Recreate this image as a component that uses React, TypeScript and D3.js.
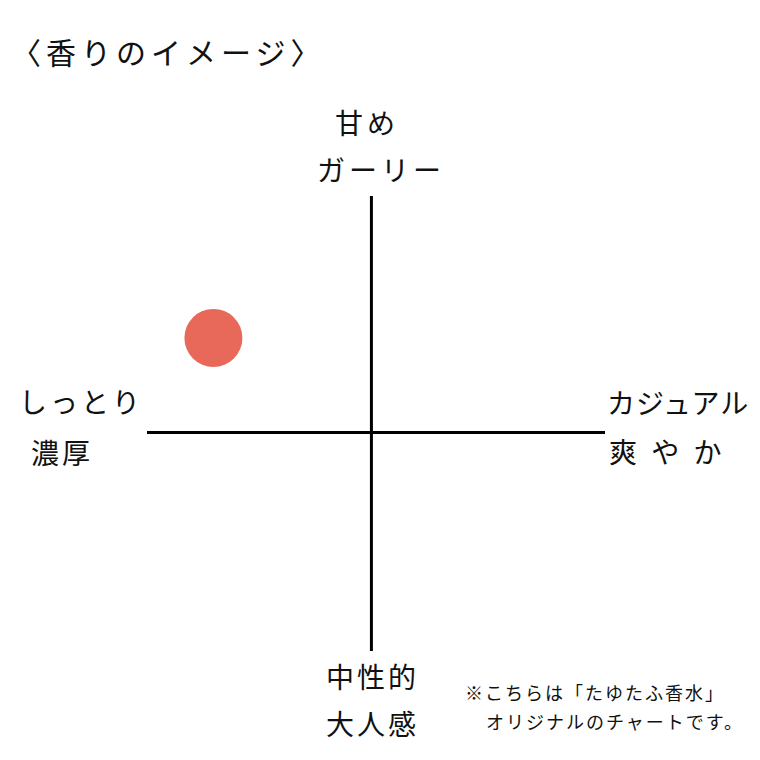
import * as React from 'react';
import * as d3 from 'd3';

// chart text
const title = '〈香りのイメージ〉';
const topLabels = ['甘め', 'ガーリー'];
const bottomLabels = ['中性的', '大人感'];
const leftLabels = ['しっとり', '濃厚'];
const rightLabels = ['カジュアル', '爽 や か'];
const noteLines = ['※こちらは「たゆたふ香水」', 'オリジナルのチャートです。'];

// plotted scent(s), in axis units (-5..5)
const scentNames = ['香り'];
const scentX = [-3.45];
const scentY = [2.1];

const FONT = '"Noto Sans CJK JP", "Noto Sans", sans-serif';

export default function App() {
  const W = 760;
  const H = 760;

  const x = d3.scaleLinear().domain([-4.9, 5.1]).range([147, 605]);
  const y = d3.scaleLinear().domain([-4.85, 5.25]).range([651, 196]);

  const [x0, x1] = x.range();
  const [y0, y1] = y.range();

  const points = scentNames.map((n, i) => ({ name: n, x: scentX[i], y: scentY[i] }));

  return (
    <svg width={W} height={H} style={{ position: 'absolute', left: 0, top: 0, background: '#fff' }}
         fontFamily={FONT}>
      <rect width={W} height={H} fill="#fff" />

      <text x={11} y={64} fontSize={30} letterSpacing={5} fill="#111">{title}</text>

      {/* axes */}
      <line x1={x0} x2={x1} y1={y(0)} y2={y(0)} stroke="#000" strokeWidth={3} />
      <line x1={x(0)} x2={x(0)} y1={y0} y2={y1} stroke="#000" strokeWidth={3} />

      {/* scent dot */}
      {points.map(p => (
        <circle key={p.name} cx={x(p.x)} cy={y(p.y)} r={29} fill="#E8695A" />
      ))}

      {/* axis labels */}
      <text x={335} y={134} fontSize={28} letterSpacing={4} fill="#111">{topLabels[0]}</text>
      <text x={317} y={181} fontSize={28} letterSpacing={4} fill="#111">{topLabels[1]}</text>

      <text x={326} y={688} fontSize={28} letterSpacing={3} fill="#111">{bottomLabels[0]}</text>
      <text x={326} y={735} fontSize={28} letterSpacing={3} fill="#111">{bottomLabels[1]}</text>

      <text x={19} y={413} fontSize={28} letterSpacing={3} fill="#111">{leftLabels[0]}</text>
      <text x={31} y={464} fontSize={28} letterSpacing={3} fill="#111">{leftLabels[1]}</text>

      <text x={607} y={414} fontSize={28} letterSpacing={1} fill="#111">{rightLabels[0]}</text>
      <text x={609} y={463} fontSize={28} letterSpacing={4} fill="#111">{rightLabels[1]}</text>

      {/* note */}
      <text x={465} y={700} fontSize={18} letterSpacing={2} fill="#111">{noteLines[0]}</text>
      <text x={486} y={729} fontSize={18} letterSpacing={2} fill="#111">{noteLines[1]}</text>
    </svg>
  );
}
